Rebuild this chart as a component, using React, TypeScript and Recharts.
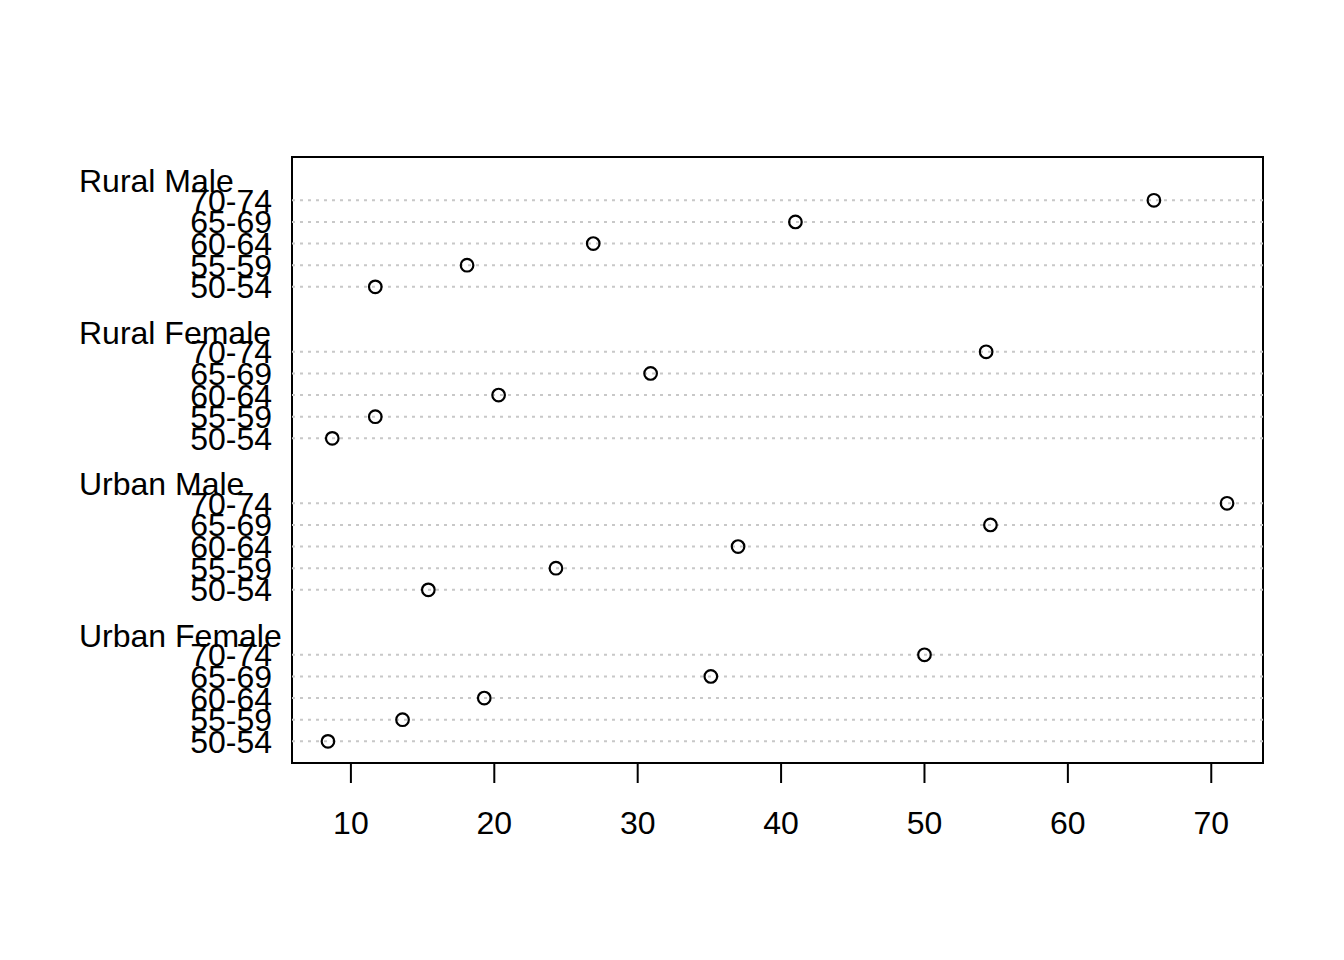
import {
  ScatterChart, Scatter, XAxis, YAxis, ReferenceLine, ReferenceArea,
} from 'recharts'

const groups = ['Rural Male', 'Rural Female', 'Urban Male', 'Urban Female']
const ageGroups = ['70-74', '65-69', '60-64', '55-59', '50-54']

const ruralMale = [66.0, 41.0, 26.9, 18.1, 11.7]
const ruralFemale = [54.3, 30.9, 20.3, 11.7, 8.7]
const urbanMale = [71.1, 54.6, 37.0, 24.3, 15.4]
const urbanFemale = [50.0, 35.1, 19.3, 13.6, 8.4]

const xTicks = [10, 20, 30, 40, 50, 60, 70]

const series = [ruralMale, ruralFemale, urbanMale, urbanFemale]

// each group takes 5 rows plus 2 rows of spacing (one holds the group label)
const ROWS_PER_GROUP = ageGroups.length + 2
const X_DOMAIN: [number, number] = [5.892, 73.608]
const Y_DOMAIN: [number, number] = [-2, 26]

const points = series.flatMap((vals, g) =>
  vals.map((value, i) => ({ value, row: g * ROWS_PER_GROUP + i }))
)

const tickInfo: Record<number, { text: string; group: boolean }> = {}
groups.forEach((name, g) => {
  tickInfo[g * ROWS_PER_GROUP - 1] = { text: name, group: true }
  ageGroups.forEach((a, i) => {
    tickInfo[g * ROWS_PER_GROUP + i] = { text: a, group: false }
  })
})
const yTicks = Object.keys(tickInfo).map(Number).sort((a, b) => a - b)
const rowTicks = points.map((p) => p.row)

const FONT = '"Liberation Sans", Arial, sans-serif'
const FS = 32

function RowTick(props: any) {
  const { x, y, payload } = props
  const info = tickInfo[payload.value]
  if (!info) return null
  if (info.group) {
    return (
      <text x={x - 193} y={y + 13.5} textAnchor="start" fontSize={FS} fontFamily={FONT} fill="#000">
        {info.text}
      </text>
    )
  }
  return (
    <text x={x} y={y + 11.5} textAnchor="end" fontSize={FS} fontFamily={FONT} fill="#000">
      {info.text}
    </text>
  )
}

function OpenCircle(props: any) {
  const { cx, cy } = props
  return <circle cx={cx} cy={cy} r={6.3} fill="none" stroke="#000" strokeWidth={2.2} />
}

export default function App() {
  return (
    <div style={{ position: 'absolute', left: 0, top: 0, background: '#fff' }}>
      <ScatterChart width={1344} height={960} margin={{ top: 157, right: 81, bottom: 97, left: 0 }}>
        <XAxis
          type="number"
          dataKey="value"
          domain={X_DOMAIN}
          allowDataOverflow
          ticks={xTicks}
          interval={0}
          axisLine={false}
          tickLine={{ stroke: '#000', strokeWidth: 2 }}
          tickSize={20}
          tickMargin={28}
          height={100}
          tick={{ fill: '#000', fontSize: FS, fontFamily: FONT }}
        />
        <YAxis
          type="number"
          dataKey="row"
          domain={Y_DOMAIN}
          allowDataOverflow
          reversed
          ticks={yTicks}
          interval={0}
          axisLine={false}
          tickLine={false}
          tickSize={0}
          tickMargin={20}
          width={292}
          tick={<RowTick />}
        />
        {rowTicks.map((r) => (
          <ReferenceLine
            key={r}
            y={r}
            stroke="#c8c8c8"
            strokeWidth={2}
            strokeDasharray="3 5"
          />
        ))}
        <ReferenceArea
          x1={X_DOMAIN[0]}
          x2={X_DOMAIN[1]}
          y1={Y_DOMAIN[0]}
          y2={Y_DOMAIN[1]}
          fill="none"
          fillOpacity={0}
          stroke="#000"
          strokeWidth={2}
        />
        <Scatter data={points} shape={<OpenCircle />} isAnimationActive={false} />
      </ScatterChart>
    </div>
  )
}
